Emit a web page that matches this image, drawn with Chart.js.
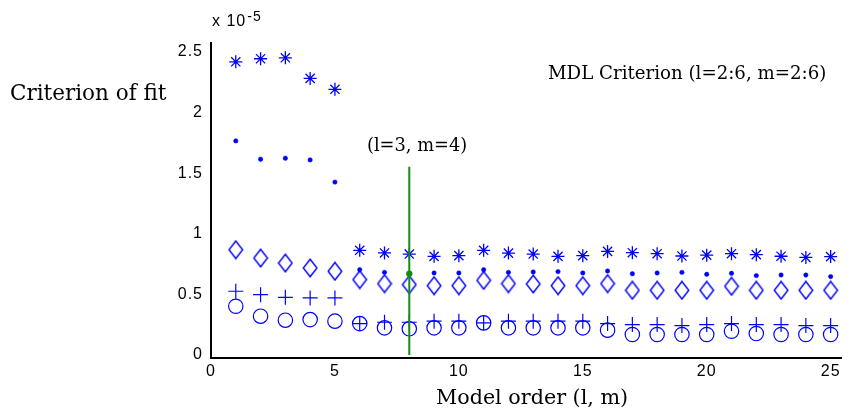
<!DOCTYPE html>
<html>
<head>
<meta charset="utf-8">
<script src="https://cdn.jsdelivr.net/npm/chart.js@4/dist/chart.umd.min.js"></script>
<style>
  html, body { margin: 0; padding: 0; background: #fff; }
  #c { display: block; }
</style>
</head>
<body>
<canvas id="c" width="851" height="409"></canvas>
<script>
// ---- data (values in units of 1e-5) ----
const modelOrder = [1,2,3,4,5,6,7,8,9,10,11,12,13,14,15,16,17,18,19,20,21,22,23,24,25];
const starSeries = [2.42, 2.445, 2.453, 2.283, 2.193, 0.864, 0.842, 0.833, 0.814, 0.820, 0.864, 0.841, 0.833, 0.814, 0.820, 0.855, 0.844, 0.836, 0.817, 0.824, 0.836, 0.828, 0.815, 0.805, 0.812];
const dotSeries = [1.767, 1.616, 1.624, 1.610, 1.427, 0.704, 0.682, 0.671, 0.677, 0.677, 0.704, 0.682, 0.685, 0.688, 0.677, 0.693, 0.671, 0.677, 0.682, 0.666, 0.674, 0.655, 0.660, 0.660, 0.647];
const diamondSeries = [0.869, 0.800, 0.759, 0.718, 0.691, 0.622, 0.589, 0.581, 0.572, 0.572, 0.616, 0.589, 0.586, 0.572, 0.572, 0.589, 0.534, 0.534, 0.534, 0.534, 0.567, 0.534, 0.534, 0.534, 0.534];
const plusSeries = [0.526, 0.498, 0.476, 0.471, 0.471, 0.259, 0.270, 0.270, 0.279, 0.279, 0.265, 0.279, 0.279, 0.279, 0.279, 0.259, 0.251, 0.251, 0.243, 0.251, 0.259, 0.251, 0.251, 0.243, 0.243];
const circleSeries = [0.402, 0.320, 0.287, 0.292, 0.279, 0.259, 0.224, 0.216, 0.224, 0.224, 0.265, 0.224, 0.224, 0.224, 0.224, 0.205, 0.169, 0.169, 0.169, 0.169, 0.196, 0.177, 0.169, 0.169, 0.169];
const selectedOrder = 8;
const selectedLineTop = 1.553;
const xTickValues = [0, 5, 10, 15, 20, 25];
const yTickValues = [0, 0.5, 1, 1.5, 2, 2.5];
const xTitle = 'Model order (l, m)';
const yTitle = 'Criterion of fit';
const annotSelected = '(l=3, m=4)';
const annotTitle = 'MDL Criterion (l=2:6, m=2:6)';

// ---- styles ----
const BLUE = '#0000ff';
const GREEN = 'rgb(20,140,20)';
const SERIF = '"DejaVu Serif", serif';
const SANS = '"Liberation Sans", Arial, sans-serif';

function pts(arr) { return modelOrder.map((x, i) => ({ x: x, y: arr[i] })); }

// custom tall diamond marker
const diamond = document.createElement('canvas');
diamond.width = 16; diamond.height = 20;
(function () {
  const g = diamond.getContext('2d');
  g.strokeStyle = BLUE; g.lineWidth = 1.4;
  g.beginPath();
  g.moveTo(8, 1.2); g.lineTo(14.8, 10); g.lineTo(8, 18.8); g.lineTo(1.2, 10); g.closePath();
  g.stroke();
})();

const spacingPlugin = {
  id: 'spacing',
  beforeDraw(chart) { chart.ctx.letterSpacing = '1px'; }
};

const textPlugin = {
  id: 'texts',
  afterDraw(chart) {
    const ctx = chart.ctx;
    ctx.save();
    ctx.letterSpacing = '0px';
    ctx.fillStyle = '#000';
    ctx.textBaseline = 'alphabetic';
    ctx.textAlign = 'left';
    ctx.font = '21.5px ' + SERIF;
    ctx.fillText(yTitle, 10, 100);
    ctx.font = '20.7px ' + SERIF;
    ctx.fillText(xTitle, 436, 404);
    ctx.font = '17.8px ' + SERIF;
    ctx.fillText(annotSelected, 367, 151);
    ctx.font = '18.2px ' + SERIF;
    ctx.fillText(annotTitle, 548, 79);
    ctx.letterSpacing = '1px';
    ctx.font = '16px ' + SANS;
    ctx.fillText('x 10', 212, 26);
    const w = ctx.measureText('x 10').width;
    ctx.font = '14px ' + SANS;
    ctx.fillText('-5', 212 + w + 1, 21);
    ctx.restore();
  }
};

const common = { showLine: false, borderColor: BLUE, backgroundColor: 'rgba(0,0,0,0)', pointBorderWidth: 1.2, pointHoverRadius: 0 };

new Chart(document.getElementById('c'), {
  type: 'scatter',
  data: {
    datasets: [
      { ...common, data: [{ x: selectedOrder, y: 0 }, { x: selectedOrder, y: selectedLineTop }], showLine: true, borderColor: GREEN, borderWidth: 2, pointRadius: 0 },
      { ...common, data: pts(starSeries), pointStyle: 'star', pointRadius: 6.5, pointBorderWidth: 1.3, pointBorderColor: BLUE },
      { ...common, data: pts(dotSeries), pointStyle: 'circle',
        pointRadius: modelOrder.map(x => x === selectedOrder ? 3 : 2.2), pointBorderWidth: 0.5,
        pointBackgroundColor: modelOrder.map(x => x === selectedOrder ? GREEN : BLUE),
        pointBorderColor: modelOrder.map(x => x === selectedOrder ? GREEN : BLUE) },
      { ...common, data: pts(diamondSeries), pointStyle: diamond, pointRadius: 8 },
      { ...common, data: pts(plusSeries), pointStyle: 'cross', pointRadius: 7.5, pointBorderColor: BLUE },
      { ...common, data: pts(circleSeries), pointStyle: 'circle', pointRadius: 7.2, pointBorderColor: BLUE }
    ]
  },
  options: {
    responsive: false,
    animation: false,
    devicePixelRatio: 1,
    layout: { padding: { left: 0, top: 43, right: 9, bottom: 0 } },
    plugins: { legend: { display: false }, tooltip: { enabled: false } },
    events: [],
    scales: {
      x: {
        type: 'linear', min: 0, max: 25.45,
        afterBuildTicks: s => { s.ticks = xTickValues.map(v => ({ value: v })); },
        afterFit: s => { s.height = 51; },
        grid: { display: false, drawTicks: false },
        border: { display: true, color: '#000', width: 2 },
        ticks: { color: '#000', font: { family: SANS, size: 16 }, padding: 4, maxRotation: 0, callback: v => String(v) }
      },
      y: {
        type: 'linear', min: -0.025, max: 2.575,
        afterBuildTicks: s => { s.ticks = yTickValues.map(v => ({ value: v })); },
        afterFit: s => { s.width = 211; },
        grid: { display: false, drawTicks: false },
        border: { display: true, color: '#000', width: 2 },
        ticks: { color: '#000', font: { family: SANS, size: 16 }, padding: 8, callback: v => String(v) }
      }
    }
  },
  plugins: [spacingPlugin, textPlugin]
});
</script>
</body>
</html>
